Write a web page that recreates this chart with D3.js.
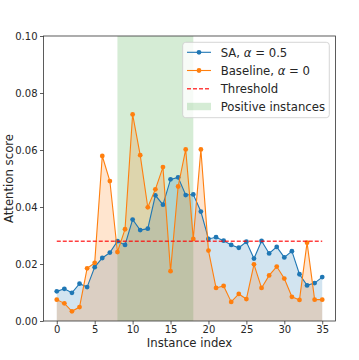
<!DOCTYPE html>
<html><head><meta charset="utf-8">
<script src="https://cdn.jsdelivr.net/npm/d3@7"></script>
<style>body{margin:0;background:#fff}svg{display:block}text{font-family:"DejaVu Sans",sans-serif;fill:#262626}</style>
</head><body>
<script>
const saValues = [0.0104,0.0113,0.0099,0.0131,0.0119,0.0189,0.0221,0.0240,0.0280,0.0267,0.0356,0.0319,0.0324,0.0441,0.0408,0.0497,0.0504,0.0442,0.0444,0.0384,0.0288,0.0294,0.0282,0.0267,0.0257,0.0278,0.0219,0.0281,0.0237,0.0260,0.0223,0.0245,0.0164,0.0125,0.0133,0.0154];
const baselineValues = [0.0075,0.0062,0.0034,0.0049,0.0185,0.0204,0.0579,0.0491,0.0242,0.0322,0.0725,0.0582,0.0399,0.0462,0.0540,0.0175,0.0472,0.0602,0.0288,0.0602,0.0247,0.0116,0.0123,0.0067,0.0095,0.0077,0.0199,0.0116,0.0160,0.0191,0.0149,0.0085,0.0074,0.0275,0.0075,0.0075];
const threshold = 0.028;
const positiveRange = [8, 18];
const xTicks = [0,5,10,15,20,25,30,35];
const yTicks = [0,0.02,0.04,0.06,0.08,0.10];
const legendLabels = [["SA, ","α"," = 0.5"],["Baseline, ","α"," = 0"],["Threshold"],["Positive instances"]];

const W=359,H=360;
const svg=d3.select("body").append("svg").attr("width",W).attr("height",H);
const x=d3.scaleLinear().domain([-1.75,36.75]).range([43.5,335.5]);
const y=d3.scaleLinear().domain([0,0.1]).range([321,36]);
const idx=d3.range(saValues.length);
const blue="#1f77b4",orange="#ff7f0e",green="#2ca02c";

svg.append("rect").attr("x",x(positiveRange[0])).attr("y",y(0.1)).attr("width",x(positiveRange[1])-x(positiveRange[0])).attr("height",y(0)-y(0.1)).attr("fill",green).attr("fill-opacity",0.2);

const area=v=>d3.area().x(i=>x(i)).y0(y(0)).y1(i=>y(v[i]));
const line=v=>d3.line().x(i=>x(i)).y(i=>y(v[i]));
svg.append("path").attr("d",area(saValues)(idx)).attr("fill",blue).attr("fill-opacity",0.2);
svg.append("path").attr("d",area(baselineValues)(idx)).attr("fill",orange).attr("fill-opacity",0.2);

[[saValues,blue],[baselineValues,orange]].forEach(([v,c])=>{
  svg.append("path").attr("d",line(v)(idx)).attr("fill","none").attr("stroke",c).attr("stroke-width",1.1);
  svg.append("g").selectAll("circle").data(idx).join("circle").attr("cx",i=>x(i)).attr("cy",i=>y(v[i])).attr("r",2.4).attr("fill",c);
});

svg.append("line").attr("x1",x(0)).attr("x2",x(35)).attr("y1",y(threshold)).attr("y2",y(threshold)).attr("stroke","red").attr("stroke-opacity",0.75).attr("stroke-width",1.4).attr("stroke-dasharray","4,2");

// axes
const xAxis=svg.append("g").attr("transform",`translate(0,${y(0)})`).call(d3.axisBottom(x).tickValues(xTicks).tickSize(3.5).tickPadding(1).tickFormat(d3.format("d")));
const yAxis=svg.append("g").attr("transform",`translate(${x.range()[0]},0)`).call(d3.axisLeft(y).tickValues(yTicks).tickSize(3.5).tickPadding(2.5).tickFormat(d3.format(".2f")));
[xAxis,yAxis].forEach(g=>{g.select(".domain").remove();g.selectAll("line").attr("stroke","#333").attr("stroke-width",0.8);g.selectAll("text").attr("font-size",10).attr("fill","#262626").attr("font-family","DejaVu Sans");});
svg.append("rect").attr("x",43.5).attr("y",36).attr("width",292).attr("height",285).attr("fill","none").attr("stroke","#333").attr("stroke-width",0.8);

svg.append("text").attr("x",189.5).attr("y",346.5).attr("text-anchor","middle").attr("font-size",11.7).text("Instance index");
svg.append("text").attr("transform","translate(12.7,178.5) rotate(-90)").attr("text-anchor","middle").attr("font-size",11.7).text("Attention score");

// legend
const lg=svg.append("g");
lg.append("rect").attr("x",182.7).attr("y",42.3).attr("width",146.6).attr("height",75.4).attr("rx",3).attr("fill","white").attr("fill-opacity",0.8).attr("stroke","#ccc").attr("stroke-width",0.8);
const rowsY=[52.3,70.5,88.7,106.5];
const lx0=187,lx1=211,tx=220.7;
[[blue],[orange]].forEach(([c],k)=>{
  lg.append("line").attr("x1",lx0).attr("x2",lx1).attr("y1",rowsY[k]).attr("y2",rowsY[k]).attr("stroke",c).attr("stroke-width",1.1);
  lg.append("circle").attr("cx",(lx0+lx1)/2).attr("cy",rowsY[k]).attr("r",2.4).attr("fill",c);
});
lg.append("line").attr("x1",lx0).attr("x2",lx1).attr("y1",rowsY[2]).attr("y2",rowsY[2]).attr("stroke","red").attr("stroke-opacity",0.75).attr("stroke-width",1.4).attr("stroke-dasharray","4,2");
lg.append("rect").attr("x",lx0).attr("y",rowsY[3]-3.7).attr("width",lx1-lx0).attr("height",7.4).attr("fill",green).attr("fill-opacity",0.2);
legendLabels.forEach((parts,k)=>{
  const t=lg.append("text").attr("x",tx).attr("y",rowsY[k]).attr("dy","0.36em").attr("font-size",11.7);
  parts.forEach(p=>{const s=t.append("tspan").text(p); if(p==="α") s.attr("font-style","italic");});
});
</script>
</body></html>
